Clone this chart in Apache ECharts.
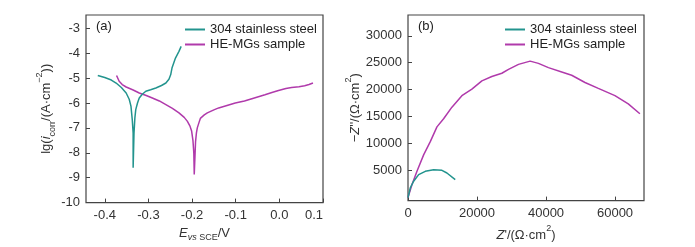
<!DOCTYPE html>
<html>
<head>
<meta charset="utf-8">
<script src="https://cdn.jsdelivr.net/npm/echarts@6/dist/echarts.min.js"></script>
<style>
  html, body { margin: 0; padding: 0; background: #fff; }
  #chart { width: 695px; height: 247px; }
</style>
</head>
<body>
<div id="chart"></div>
<script>
const colorArr = ['#23948e', '#b03aab'];
const seriesNames = ['304 stainless steel', 'HE-MGs sample'];

// (a) 极化曲线
const steelE = [-0.416, -0.400, -0.385, -0.374, -0.362, -0.351, -0.344, -0.340, -0.337, -0.335,
  -0.335, -0.333, -0.331, -0.329, -0.325, -0.321, -0.314, -0.306, -0.295, -0.283,
  -0.270, -0.260, -0.253, -0.249, -0.246, -0.242, -0.238, -0.230, -0.225];
const steelLogI = [-4.90, -4.98, -5.08, -5.20, -5.38, -5.60, -5.85, -6.13, -6.67, -7.20,
  -8.60, -7.20, -6.60, -6.27, -6.00, -5.80, -5.65, -5.53, -5.47, -5.40,
  -5.30, -5.20, -5.05, -4.87, -4.60, -4.40, -4.20, -3.93, -3.73];
const hemgE = [-0.373, -0.367, -0.360, -0.351, -0.335, -0.321, -0.305, -0.291, -0.275, -0.260,
  -0.245, -0.230, -0.218, -0.211, -0.205, -0.201, -0.198, -0.196, -0.195, -0.193,
  -0.192, -0.190, -0.188, -0.184, -0.181, -0.172, -0.165, -0.150, -0.139, -0.120,
  -0.101, -0.080, -0.063, -0.048, -0.033, -0.017, -0.002, 0.015, 0.028, 0.045,
  0.058, 0.068, 0.077];
const hemgLogI = [-4.90, -5.13, -5.26, -5.36, -5.48, -5.60, -5.70, -5.80, -5.92, -6.07,
  -6.22, -6.40, -6.58, -6.73, -6.92, -7.13, -7.50, -8.00, -8.87, -8.00,
  -7.55, -7.20, -7.00, -6.78, -6.62, -6.48, -6.40, -6.28, -6.20, -6.10,
  -6.00, -5.92, -5.83, -5.75, -5.67, -5.58, -5.50, -5.42, -5.38, -5.35,
  -5.31, -5.26, -5.20];
const eTicks = [-0.4, -0.3, -0.2, -0.1, 0.0, 0.1];
const logITicks = [-10, -9, -8, -7, -6, -5, -4, -3];

// (b) Nyquist
const steelZre = [0, 675, 1640, 3090, 5010, 7430, 9840, 11280, 13690];
const steelZim = [0, 1830, 3050, 4270, 4880, 5180, 5060, 4570, 3350];
const hemgZre = [0, 1160, 2600, 4530, 6460, 8390, 10320, 12730, 15620, 18520,
  21410, 24300, 27200, 29130, 32020, 35400, 37800, 40700, 44550, 47440,
  51300, 55160, 59980, 63840, 67210];
const hemgZim = [0, 2440, 4880, 7930, 10370, 13110, 14630, 16770, 18900, 20120,
  21650, 22440, 23050, 23780, 24700, 25300, 24880, 24090, 23290, 22680,
  21340, 20240, 18900, 17380, 15550];
const zreTicks = [0, 20000, 40000, 60000];
const zimTicks = [5000, 10000, 15000, 20000, 25000, 30000];

const zip = (a, b) => a.map((v, i) => [v, b[i]]);

const font = 'Liberation Sans, Arial, sans-serif';
const axisColor = '#444';
const textColor = '#333';

const nameRich = {
  n: { fontSize: 13, fontFamily: font, color: textColor, lineHeight: 18 },
  i: { fontSize: 13, fontFamily: font, color: textColor, fontStyle: 'italic', lineHeight: 18 },
  s: { fontSize: 9, fontFamily: font, color: textColor, verticalAlign: 'bottom', lineHeight: 14 },
  si: { fontSize: 9, fontFamily: font, color: textColor, fontStyle: 'italic', verticalAlign: 'bottom', lineHeight: 14 },
  p: { fontSize: 9, fontFamily: font, color: textColor, verticalAlign: 'top', lineHeight: 22 }
};

function valueAxis(idx, min, max, ticks, fmt, extra) {
  return Object.assign({
    type: 'value',
    gridIndex: idx,
    min: min,
    max: max,
    splitLine: { show: false },
    axisLine: { show: false, onZero: false },
    axisTick: {
      show: true, inside: true, length: 4, customValues: ticks,
      lineStyle: { color: axisColor, width: 1 }
    },
    axisLabel: {
      customValues: ticks, formatter: fmt, margin: 6,
      showMinLabel: true, showMaxLabel: true,
      fontSize: 13, fontFamily: font, color: textColor
    },
    nameLocation: 'middle',
    nameTextStyle: { rich: nameRich }
  }, extra);
}

const lineSeries = (name, color, x, y, xi, yi) => ({
  name: name,
  type: 'line',
  xAxisIndex: xi,
  yAxisIndex: yi,
  data: zip(x, y),
  symbol: 'none',
  smooth: false,
  lineStyle: { color: color, width: 1.5 },
  itemStyle: { color: color },
  z: name === seriesNames[0] ? 3 : 2
});

const legendBase = {
  orient: 'vertical',
  icon: 'rect',
  itemWidth: 20,
  itemHeight: 2,
  itemGap: 0,
  textStyle: { fontSize: 13, fontFamily: font, color: '#222', lineHeight: 15 },
  data: seriesNames
};

// 右端标签 0.1 超出网格时会被隐藏, 改为右对齐
const eAxis = valueAxis(0, -0.443, 0.1, eTicks, v => v.toFixed(1), {
  name: '{i|E}{si|vs}{s| SCE}{n|/V}', nameGap: 19
});
eAxis.axisLabel.alignMaxLabel = 'right';

const chart = echarts.init(document.getElementById('chart'));
chart.setOption({
  animation: false,
  backgroundColor: '#fff',
  title: [
    { text: '(a)', left: 91, top: 15, textStyle: { fontSize: 13, fontWeight: 'normal', fontFamily: font, color: '#222' } },
    { text: '(b)', left: 413, top: 15, textStyle: { fontSize: 13, fontWeight: 'normal', fontFamily: font, color: '#222' } }
  ],
  legend: [
    Object.assign({ left: 180, top: 17 }, legendBase),
    Object.assign({ left: 500, top: 17 }, legendBase)
  ],
  grid: [
    { left: 86, top: 15, width: 237, height: 188, show: true, borderColor: axisColor, borderWidth: 1.2, backgroundColor: 'transparent' },
    { left: 408, top: 15, width: 236, height: 188, show: true, borderColor: axisColor, borderWidth: 1.2, backgroundColor: 'transparent' }
  ],
  xAxis: [
    eAxis,
    valueAxis(1, 0, 68400, zreTicks, v => String(Math.round(v)), {
      name: "{i|Z}{n|'/(Ω·cm}{p|2}{n|)}", nameGap: 19
    })
  ],
  yAxis: [
    valueAxis(0, -10, -2.47, logITicks, v => String(Math.round(v)), {
      name: '{n|lg(}{i|i}{s|corr}{n|/(A·cm}{p|−2}{n|))}', nameGap: 18
    }),
    valueAxis(1, -550, 33850, zimTicks, v => String(Math.round(v)), {
      name: "{n|−}{i|Z}{n|''/(Ω·cm}{p|2}{n|)}", nameGap: 42
    })
  ],
  series: [
    lineSeries(seriesNames[0], colorArr[0], steelE, steelLogI, 0, 0),
    lineSeries(seriesNames[1], colorArr[1], hemgE, hemgLogI, 0, 0),
    lineSeries(seriesNames[0], colorArr[0], steelZre, steelZim, 1, 1),
    lineSeries(seriesNames[1], colorArr[1], hemgZre, hemgZim, 1, 1)
  ]
});
</script>
</body>
</html>
